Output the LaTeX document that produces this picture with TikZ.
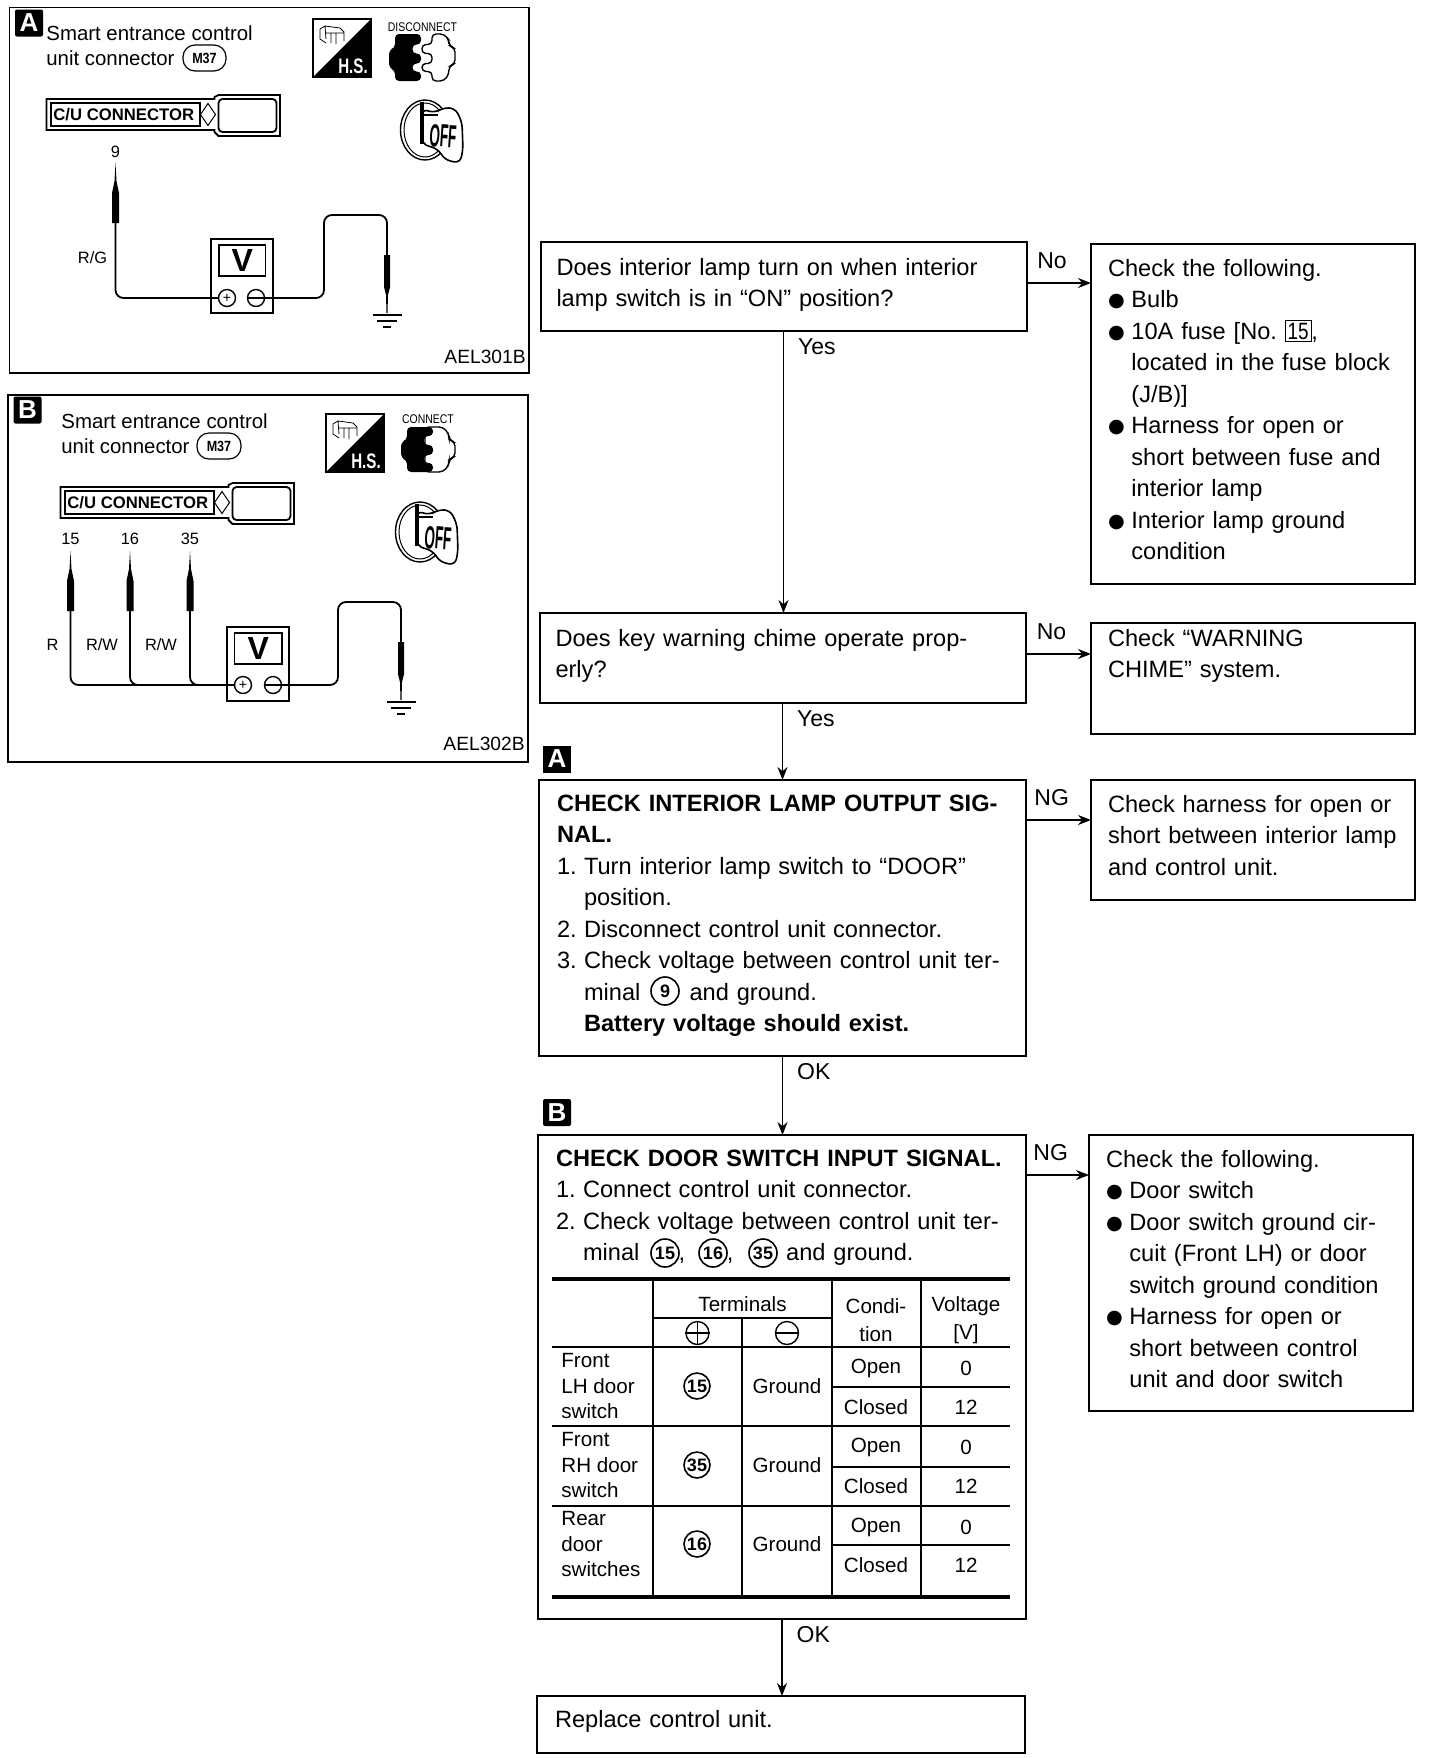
\documentclass[tikz,border=0pt]{standalone}
\usepackage{fontspec}
\setmainfont{Liberation Sans}
\newfontfamily\symfont{DejaVu Sans}
\usetikzlibrary{positioning,arrows.meta,calc}
\setlength{\fboxsep}{1pt}
\newcommand{\bul}{\makebox[11.7pt][l]{\symfont\fontsize{9.6}{9.6}\selectfont\raisebox{.4pt}{●}}}
\newcommand{\hang}{\makebox[11.7pt]{}}
\newcommand{\itm}[1]{\makebox[13.5pt][l]{#1}}
\newcommand{\cond}[2]{\scalebox{#1}[1]{#2}}
\tikzset{
  flowbox/.style={draw, line width=1pt, anchor=north west, inner xsep=8pt, inner ysep=0pt, outer sep=0pt,
    text width=#1, align=left, font=\fontsize{11.8}{15.75}\selectfont, text height=15.5pt},
  sidebox/.style={flowbox=145pt, line width=.8pt, inner xsep=8.5pt},
  tagbox/.style={fill=black, text=white, font=\bfseries\fontsize{13}{13}\selectfont, inner sep=0pt,
    minimum width=14pt, minimum height=13.5pt, rounded corners=1pt},
  panel/.style={draw, line width=.9pt, anchor=north west, inner sep=0pt, outer sep=0pt},
  wire/.style={line width=.9pt, rounded corners=4pt},
  flow/.style={->, line width=.7pt},
  ansr/.style={font=\fontsize{11.5}{12}\selectfont, inner sep=2pt},
  downansr/.style={ansr, right, xshift=5pt},
  sideansr/.style={ansr, above, xshift=-3.4pt, yshift=5pt},
  cnum/.style={draw, circle, line width=.8pt, inner sep=0pt, minimum size=14pt, font=\fontsize{9}{9}\selectfont\bfseries},
  tabtext/.style={font=\fontsize{10.3}{12.9}\selectfont, inner sep=0pt, align=center},
  tabhead/.style={font=\fontsize{10.3}{14}\selectfont, inner sep=0pt, align=center},
  small/.style={inner sep=0pt, font=\fontsize{8.2}{9}\selectfont},
  probe/.pic={
    \fill (0,0) -- (1,18) -- (3.5,30) -- (3.5,60) -- (-3.5,60) -- (-3.5,30) -- (-1,18) -- cycle;
  },
  gprobe/.pic={
    \fill (-3,0) -- (3,0) -- (3,32) -- (1,40) -- (.5,58) -- (-.5,58) -- (-1,40) -- (-3,32) -- cycle;
    \fill (-14.5,59) rectangle (14.5,61);
    \fill (-10,65) rectangle (10,67);
    \fill (-4,71) rectangle (4,73);
  },
  hsicon/.pic={
    \draw[line width=.8pt] (0,0) rectangle (58,58);
    \fill (58,0) -- (58,58) -- (0,58) -- cycle;
    \draw[line width=.4pt] (7,10) -- (7,20) -- (13,24) (7,10) -- (12,7) -- (27,9) -- (31,13) -- (31,22)
      (12,7) -- (13,20) (18,14) -- (18,24) (23,14) -- (23,25) (13,14) -- (31,14);
    \node[inner sep=0pt, text=white, font=\bfseries\fontsize{10.5}{11}\selectfont] (txt) at (40,47) {\cond{.72}{H.S.}};
  },
  keyicon/.pic={
    \draw[line width=.7pt] (25,30) ellipse [x radius=24.5, y radius=30];
    \draw[line width=.5pt] (25,30) ellipse [x radius=21, y radius=27];
    \draw[line width=.8pt, fill=white, rounded corners=3pt] (22,9) -- (35,13) -- (42,8) -- (55,8) -- (62,22)
      -- (63,50) -- (60,63) -- (45,60) -- (38,49) -- (22,44) -- cycle;
    \draw[line width=1.6pt] (22,2) -- (22,44);
    \draw[line width=.8pt] (22,15) -- (38,15);
    \node[inner sep=0pt, rotate=-4, font=\bfseries\fontsize{16}{16}\selectfont] (txt) at (43,36) {\cond{.42}{OFF}};
  },
  cuplug/.pic={
    \draw[line width=.9pt, fill=white] (168,-2) -- (172,-4) -- (233.5,-4) -- (233.5,37) -- (172,37) -- (168,33) -- (168,31) -- (0,31) -- (0,0) -- (168,0) -- cycle;
    \draw[line width=.9pt] (4.5,4) rectangle (153.5,27);
    \draw[line width=.9pt, rounded corners=2pt] (172,0) rectangle (230,33);
    \draw[line width=.5pt] (153.5,4) -- (153.5,27) (161.5,4.5) -- (169,15.5) -- (161.5,26.5) -- (154,15.5) -- cycle;
    \node[anchor=west, inner sep=0pt, font=\bfseries\fontsize{8.35}{9}\selectfont] (txt) at (6.5,15.5) {C/U CONNECTOR};
  }
}
\begin{document}
\begin{tikzpicture}[x=0.5pt, y=-0.5pt, >={Stealth[length=6.5pt,width=5pt]}]
\useasboundingbox (0,0) rectangle (1440,1758);

% panel A
\node[panel, minimum width=259.75pt, minimum height=182.75pt] (panelA) at (9.5,7.5) {};
\node[tagbox] (tagA) at (29,23) {A};
\node[anchor=north west, inner sep=0pt, align=left, font=\fontsize{10.2}{12.5}\selectfont] (titleA) at (46,25) {Smart entrance control\\unit connector};
\node[draw, line width=.6pt, rounded corners=6pt, inner sep=0pt, minimum width=21.5pt, minimum height=13pt, font=\bfseries\fontsize{7.4}{8}\selectfont] (harnA) at (204.5,58) {\cond{.85}{M37}};
\pic (hsA) at (313,19) {hsicon};
\node[inner sep=0pt, font=\fontsize{6.3}{7}\selectfont] (discA) at (422.5,27.5) {\cond{.83}{DISCONNECT}};
% plug halves
\fill[rounded corners=2pt] (421,34) -- (395,34) -- (395,48) -- (389,50) -- (389,68) -- (395,70) -- (395,81) -- (421,81) -- (421,71.5) -- (412.5,71.5) -- (412.5,63.5) -- (421,63.5) -- (421,53.5) -- (412.5,53.5) -- (412.5,44.5) -- (421,44.5) -- cycle;
\draw[line width=.7pt, rounded corners=2pt] (432,34) -- (444,34) -- (449,40) -- (449,46) -- (455,48) -- (455,64) -- (449,66) -- (449,74) -- (444,81) -- (432,81) -- (432,71.5) -- (422,71.5) -- (422,63.5) -- (432,63.5) -- (432,53.5) -- (422,53.5) -- (422,44.5) -- (432,44.5) -- cycle;
\pic (cuA) at (46.5,99) {cuplug};
\pic (keyA) at (400,100) {keyicon};
\node[small] (n9) at (115.5,152) {9};
\pic (pr9) at (115.5,163) {probe};
\coordinate (w9) at (115.5,222);
\node[small, anchor=east] (lbRG) at (107.5,258) {R/G};
\node[draw, line width=.9pt, minimum width=31pt, minimum height=37pt, inner sep=0pt, fill=white] (meterA) at (242,276) {};
\node[draw, line width=.9pt, minimum width=23.25pt, minimum height=15.5pt, inner sep=0pt, font=\bfseries\fontsize{16}{16}\selectfont] (winA) at (242.25,260.5) {V};
\node[draw, circle, line width=.7pt, fill=white, minimum size=8.5pt, inner sep=0pt, font=\fontsize{7}{7}\selectfont] (plusA) at (227,298) {+};
\node[draw, circle, line width=.7pt, fill=white, minimum size=8.5pt, inner sep=0pt] (minusA) at (256,298) {};
\draw[line width=.7pt] (minusA.west) -- (minusA.east);
\draw[wire] (w9) |- (plusA.west);
\pic (gA) at (387,255) {gprobe};
\coordinate (wgA) at (387,255);
\draw[wire] (minusA.east) -- (324,298) -- (324,215) -- (387,215) -- (wgA);
\node[anchor=east, inner sep=0pt, font=\fontsize{9.6}{10}\selectfont] (codeA) at (526,357) {AEL301B};

% panel B
\node[panel, minimum width=260pt, minimum height=183.5pt] (panelB) at (8,395) {};
\node[tagbox] (tagB) at (27.5,410) {B};
\node[anchor=north west, inner sep=0pt, align=left, font=\fontsize{10.2}{12.5}\selectfont] (titleB) at (61,413) {Smart entrance control\\unit connector};
\node[draw, line width=.6pt, rounded corners=6pt, inner sep=0pt, minimum width=22pt, minimum height=13pt, font=\bfseries\fontsize{7.4}{8}\selectfont] (harnB) at (219,446) {\cond{.85}{M37}};
\pic (hsB) at (326,414) {hsicon};
\node[inner sep=0pt, font=\fontsize{6.3}{7}\selectfont] (connB) at (428,419) {\cond{.83}{CONNECT}};
\draw[line width=.7pt, rounded corners=2pt, fill=white] (425,427) -- (443,427) -- (449,434) -- (449,440) -- (455,442) -- (455,457) -- (449,459) -- (449,465) -- (443,472) -- (425,472) -- cycle;
\fill[rounded corners=2pt] (433,427) -- (407,427) -- (407,440) -- (401,442) -- (401,458) -- (407,460) -- (407,472) -- (433,472) -- (433,463) -- (424,463) -- (424,455) -- (433,455) -- (433,445) -- (424,445) -- (424,436) -- (433,436) -- cycle;
\pic (cuB) at (60.5,487) {cuplug};
\pic (keyB) at (395,502) {keyicon};
\node[small] (n15) at (70.5,539) {15};
\node[small] (n16) at (130,539) {16};
\node[small] (n35) at (190,539) {35};
\foreach \x/\n in {70.5/15,130/16,190/35}{
  \pic (pr\n) at (\x,551) {probe};
  \coordinate (w\n) at (\x,611);
}
\node[small] (lbR) at (52.5,645) {R};
\node[small] (lbRWa) at (102,645) {R/W};
\node[small] (lbRWb) at (161,645) {R/W};
\node[draw, line width=.9pt, minimum width=31pt, minimum height=37pt, inner sep=0pt, fill=white] (meterB) at (258,664) {};
\node[draw, line width=.9pt, minimum width=23.75pt, minimum height=15.5pt, inner sep=0pt, font=\bfseries\fontsize{16}{16}\selectfont] (winB) at (258.25,648.5) {V};
\node[draw, circle, line width=.7pt, fill=white, minimum size=8.5pt, inner sep=0pt, font=\fontsize{7}{7}\selectfont] (plusB) at (243,685) {+};
\node[draw, circle, line width=.7pt, fill=white, minimum size=8.5pt, inner sep=0pt] (minusB) at (273,685) {};
\draw[line width=.7pt] (minusB.west) -- (minusB.east);
\draw[wire] (w15) |- (plusB.west);
\draw[wire] (w16) |- (plusB.west);
\draw[wire] (w35) |- (plusB.west);
\pic (gB) at (401,642) {gprobe};
\coordinate (wgB) at (401,642);
\draw[wire] (minusB.east) -- (338,685) -- (338,602) -- (401,602) -- (wgB);
\node[anchor=east, inner sep=0pt, font=\fontsize{9.6}{10}\selectfont] (codeB) at (525,744) {AEL302B};

% flow boxes
\node[flowbox=227pt, text height=16.5pt, text depth=28pt] (q1) at (540.5,242) {Does interior lamp turn on when interior\\lamp switch is in “ON” position?};
\node[sidebox, text height=16pt, text depth=154pt] (r1) at (1091,244) {Check the following.\\\bul Bulb\\\bul 10A fuse [No.\ \smash{\fbox{\cond{.8}{15}}},\\\hang located in the fuse block\\\hang (J/B)]\\\bul Harness for open or\\\hang short between fuse and\\\hang interior lamp\\\bul Interior lamp ground\\\hang condition};
\node[flowbox=227pt, text height=16.5pt, text depth=28.5pt] (q2) at (539.5,613) {Does key warning chime operate prop-\\erly?};
\node[sidebox, text height=11.5pt, text depth=44pt] (r2) at (1091,623) {Check “WARNING\\CHIME” system.};
\node[flowbox=225.5pt, inner xsep=9pt, line width=1.3pt, text depth=122.5pt] (q3) at (539,780) {\textbf{CHECK INTERIOR LAMP OUTPUT SIG-}\\\textbf{NAL.}\\\itm{1.}Turn interior lamp switch to “DOOR”\\\itm{}position.\\\itm{2.}Disconnect control unit connector.\\\itm{3.}Check voltage between control unit ter-\\\itm{}\makebox[52.8pt][l]{minal}and ground.\\\itm{}\textbf{Battery voltage should exist.}};
\node[sidebox, text height=16pt, text depth=44pt] (r3) at (1091,780) {Check harness for open or\\short between interior lamp\\and control unit.};
\node[flowbox=226pt, inner xsep=9pt, line width=1.3pt, text depth=226.5pt] (q4) at (538,1135) {\textbf{CHECK DOOR SWITCH INPUT SIGNAL.}\\\itm{1.}Connect control unit connector.\\\itm{2.}Check voltage between control unit ter-\\\itm{}\makebox[47.8pt][l]{minal}\makebox[24.2pt][l]{,}\makebox[29.6pt][l]{,}and ground.};
\node[sidebox, text height=16pt, text depth=122pt] (r4) at (1089,1135) {Check the following.\\\bul Door switch\\\bul Door switch ground cir-\\\hang cuit (Front LH) or door\\\hang switch ground condition\\\bul Harness for open or\\\hang short between control\\\hang unit and door switch};
\node[flowbox=226pt, inner xsep=9pt, text depth=13pt] (q5) at (537,1696) {Replace control unit.};

% circled terminals in the text
\node[cnum] (c9) at (665,991) {9};
\node[cnum] (c15) at (665,1253) {15};
\node[cnum] (c16) at (713,1253) {16};
\node[cnum] (c35) at (763,1253) {35};
\node[tagbox, rounded corners=0pt] (stepA) at (557,759) {A};
\node[tagbox] (stepB) at (557,1112.5) {B};

% connectors
\draw[flow] (q1.south) -- node[downansr, pos=.057]{Yes} (q1.south |- q2.north);
\draw[flow] (q2.south) -- node[downansr, pos=.2]{Yes} (q2.south |- q3.north);
\draw[flow] (q3.south) -- node[downansr, pos=.2]{OK} (q3.south |- q4.north);
\draw[flow] (q4.south) -- node[downansr, pos=.2]{OK} (q4.south |- q5.north);
\draw[flow] ($(q1.east)+(0,-3.5)$) -- node[sideansr]{No} ($(q1.east -| r1.west)+(0,-3.5)$);
\draw[flow] ($(q2.east)+(0,-4)$) -- node[sideansr]{No} ($(q2.east -| r2.west)+(0,-4)$);
\draw[flow] ($(q3.north east)+(0,40)$) -- node[sideansr]{NG} ($(q3.north east -| r3.west)+(0,40)$);
\draw[flow] ($(q4.north east)+(0,40)$) -- node[sideansr]{NG} ($(q4.north east -| r4.west)+(0,40)$);

% door switch table
\draw[line width=1.8pt] (552,1279) -- (1010,1279);
\draw[line width=1.8pt] (552,1597) -- (1010,1597);
\foreach \y in {1347,1426,1506}{
  \draw[line width=.8pt] (552,\y) -- (1010,\y);
}
\foreach \y in {1387,1467,1545}{
  \draw[line width=.7pt] (832,\y) -- (1010,\y);
}
\draw[line width=.8pt] (653,1318) -- (832,1318);
\foreach \x in {653,832,921}{
  \draw[line width=.8pt] (\x,1279) -- (\x,1597);
}
\draw[line width=.8pt] (742,1318) -- (742,1597);
\node[tabtext] (hdT) at (742.5,1304) {Terminals};
\node[tabhead] (hdC) at (876,1320) {Condi-\\tion};
\node[tabhead] (hdV) at (966,1320) {Voltage\\{[V]}};
\node[draw, circle, line width=.7pt, minimum size=11.5pt, inner sep=0pt] (hdP) at (697.5,1333) {};
\node[draw, circle, line width=.7pt, minimum size=11.5pt, inner sep=0pt] (hdM) at (787,1333) {};
\draw[line width=.7pt] (hdP.west) -- (hdP.east) (hdP.north) -- (hdP.south) (hdM.west) -- (hdM.east);
\foreach \n/\yc/\term/\lab in {1/1386/15/{Front\\LH door\\switch},2/1465/35/{Front\\RH door\\switch},3/1544/16/{Rear\\door\\switches}}{
  \node[tabtext, anchor=west, align=left] (row\n) at (561,\yc) {\lab};
  \node[cnum, minimum size=13pt] (term\n) at (697,\yc) {\term};
  \node[tabtext] (gnd\n) at (787,\yc) {Ground};
}
\foreach \n/\yo/\yc in {1/1368/1407,2/1447/1486,3/1527/1565}{
  \node[tabtext] (open\n) at (876,\yo) {Open};
  \node[tabtext] (clos\n) at (876,\yc) {Closed};
  \node[tabtext] (vo\n) at (966,\yo) {0};
  \node[tabtext] (vc\n) at (966,\yc) {12};
}
\end{tikzpicture}
\end{document}
